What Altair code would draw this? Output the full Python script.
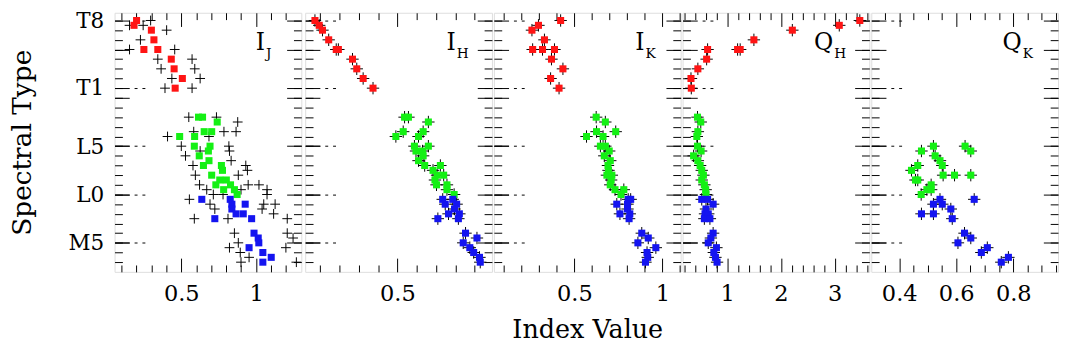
import altair as alt
import pandas as pd

FONT = "DejaVu Serif"

# ---------------- data ----------------
spt_label_values = [5, 10, 15, 21, 28]
spt_label_text = ["M5", "L0", "L5", "T1", "T8"]
group_names = ["T", "L", "M"]
group_colors = ["#ff1414", "#14f014", "#1414f0"]

panel_main = ["I", "I", "I", "Q", "Q"]
panel_sub = ["J", "H", "K", "H", "K"]

# Panel 1: I_J
ij_T_x = [0.201, 0.184, 0.30, 0.317, 0.25, 0.343, 0.433, 0.452, 0.507, 0.459]
ij_T_y = [28, 27.5, 27, 26, 25, 25, 24, 23, 22, 21]
ij_L_x = [0.615, 0.642, 0.74, 0.653, 0.703, 0.489, 0.589, 0.587, 0.692, 0.681, 0.62, 0.685,
          0.648, 0.768, 0.775, 0.703, 0.757, 0.801, 0.829, 0.731, 0.783, 0.855, 0.873]
ij_L_y = [18, 18, 17.5, 16.5, 16.5, 16, 16, 15, 15, 14.5, 14, 13.5,
          13, 13, 12.5, 12, 11.5, 11.5, 11, 11, 10.5, 10.5, 10]
ij_M_x = [0.637, 0.827, 0.838, 0.927, 0.838, 0.866, 0.914, 0.724, 0.97, 0.986, 1.014, 1.018,
          0.953, 1.045, 1.101, 1.045]
ij_M_y = [9.5, 9.5, 9, 9, 8.5, 8, 8, 7.5, 7.5, 6, 5.5, 5, 4.5, 4, 3.5, 3]
# Panel 1 comparison sample (black crosses)
ij_ref_x = [0.154, 0.245, 0.295, 0.402, 0.227, 0.154, 0.456, 0.343, 0.572, 0.365, 0.59, 0.437,
            0.626, 0.391, 0.572, 0.55, 0.735, 0.877, 0.583, 0.785, 0.866, 0.408, 0.685, 0.5,
            0.818, 0.626, 0.822, 0.528, 0.833, 0.578, 0.931, 0.942, 0.594, 0.881, 0.622, 0.947,
            1.019, 0.67, 0.899, 1.073, 0.554, 0.714, 0.779, 1.073, 0.692, 1.051, 1.127, 0.724,
            1.04, 1.117, 0.587, 0.812, 1.208, 0.855, 1.208, 1.247, 0.881, 0.822, 1.199, 0.953,
            0.899, 1.269, 0.894]
ij_ref_y = [27.5, 27.5, 28, 27, 26, 25, 25, 24, 24, 23, 23, 22,
            22, 21, 21, 18, 18, 17.5, 16.5, 16.5, 16.5, 16, 16, 15,
            15, 14.5, 14.5, 14, 13.5, 13, 13, 12.5, 12, 12, 11, 11,
            11, 10.5, 10.5, 10.5, 9.5, 10, 10, 10, 9, 9, 9, 8.5,
            8.5, 8, 7.5, 7.5, 7.5, 6, 6, 5.5, 5, 4.5, 4.5, 3.5,
            3, 3, 4]

# Panel 2: I_H
ih_T_x = [0.074, 0.096, 0.113, 0.145, 0.184, 0.195, 0.268, 0.29, 0.323, 0.374]
ih_T_y = [28, 27.5, 27, 26, 25, 25, 24, 23, 22, 21]
ih_L_x = [0.537, 0.557, 0.66, 0.53, 0.633, 0.492, 0.609, 0.588, 0.66, 0.596, 0.63, 0.633,
          0.609, 0.641, 0.684, 0.722, 0.705, 0.739, 0.694, 0.702, 0.756, 0.756, 0.793]
ih_L_y = [18, 18, 17.5, 16.5, 16.5, 16, 16, 15, 15, 14.5, 14.5, 14,
          13.5, 13, 12.5, 13, 12, 12, 11.5, 11, 11, 10.5, 10]
ih_M_x = [0.734, 0.747, 0.786, 0.806, 0.764, 0.795, 0.82, 0.815, 0.709, 0.852, 0.911, 0.84,
          0.874, 0.894, 0.924, 0.928]
ih_M_y = [9.5, 9, 9.5, 9, 8, 8.5, 8, 7.5, 7.5, 6, 5.5, 5, 4.5, 4, 3.5, 3]

# Panel 3: I_K
ik_T_x = [0.422, 0.296, 0.259, 0.33, 0.263, 0.319, 0.387, 0.37, 0.435, 0.365, 0.413]
ik_T_y = [28, 27.5, 27, 26, 25, 25, 25, 24, 23, 22, 21]
ik_L_x = [0.624, 0.676, 0.626, 0.735, 0.569, 0.663, 0.648, 0.676, 0.698, 0.67, 0.704, 0.691,
          0.694, 0.685, 0.713, 0.709, 0.704, 0.731, 0.781, 0.765]
ik_L_y = [18, 17.5, 16.5, 16.5, 16, 16, 15, 15, 14.5, 14, 13.5, 13,
          12.5, 12, 12, 11.5, 11, 10.5, 10.5, 10]
ik_M_x = [0.806, 0.82, 0.741, 0.802, 0.802, 0.759, 0.815, 0.811, 0.883, 0.92, 0.861, 0.963,
          0.913, 0.917, 0.904]
ik_M_y = [9.5, 9.5, 9, 9, 8.5, 8, 8, 7.5, 6, 5.5, 5, 4.5, 4, 3.5, 3]

# Panel 4: Q_H
qh_T_x = [3.467, 3.085, 2.212, 1.497, 1.194, 1.242, 0.636, 0.618, 0.455, 0.327, 0.333]
qh_T_y = [28, 27.5, 27, 26, 25, 25, 25, 24, 23, 22, 21]
qh_L_x = [0.448, 0.509, 0.455, 0.436, 0.448, 0.515, 0.376, 0.455, 0.497, 0.527, 0.558, 0.527,
          0.576, 0.6, 0.606]
qh_L_y = [18, 17.5, 16.5, 16, 15, 14.5, 14, 13.5, 13, 12.5, 12, 11.5, 11, 10.5, 10]
qh_M_x = [0.527, 0.636, 0.739, 0.606, 0.588, 0.648, 0.576, 0.679, 0.739, 0.697, 0.648, 0.8,
          0.752, 0.782, 0.812]
qh_M_y = [9.5, 9.5, 9, 8.5, 8, 8, 7.5, 7.5, 6, 5.5, 5, 4.5, 4, 3.5, 3]

# Panel 5: Q_K
qk_T_x = []
qk_T_y = []
qk_L_x = [0.478, 0.52, 0.631, 0.651, 0.526, 0.543, 0.551, 0.465, 0.443, 0.554, 0.594, 0.651,
          0.457, 0.465, 0.512, 0.497, 0.512, 0.477]
qk_L_y = [14.5, 15, 15, 14.5, 14, 13.5, 13, 13, 12.5, 12, 12, 12,
          11.5, 11.5, 11, 10.5, 10.5, 10]
qk_M_x = [0.663, 0.543, 0.52, 0.551, 0.581, 0.478, 0.52, 0.586, 0.629, 0.651, 0.606, 0.709,
          0.688, 0.783, 0.758]
qk_M_y = [9.5, 9.5, 9, 9, 8.5, 8, 8, 7.5, 6, 5.5, 5, 4.5, 4, 3.5, 3]

# axis tick values for each panel
x_major = [[0.5, 1.0], [0.5], [0.5, 1.0], [1, 2, 3], [0.4, 0.6, 0.8]]
x_minor = [
    [0.1, 0.2, 0.3, 0.4, 0.6, 0.7, 0.8, 0.9, 1.1, 1.2],
    [0.1, 0.2, 0.3, 0.4, 0.6, 0.7, 0.8, 0.9],
    [0.1, 0.2, 0.3, 0.4, 0.6, 0.7, 0.8, 0.9, 1.1],
    [0.2, 0.4, 0.6, 0.8, 1.2, 1.4, 1.6, 1.8, 2.2, 2.4, 2.6, 2.8, 3.2, 3.4, 3.6],
    [0.35, 0.45, 0.5, 0.55, 0.65, 0.7, 0.75, 0.85, 0.9, 0.95],
]
x_domains = [[0.054, 1.302], [0.0237, 0.9884], [0.0428, 1.1039], [0.171, 3.644], [0.302, 0.957]]
y_minor = list(range(3, 29))
y_major = [5, 10, 15, 20, 25]
y_right_major = [5, 10, 15, 20, 21, 25, 28]

# ---------------- layout constants ----------------
W = 191
H = 265
Y_DOM = [2, 28.8]
CROSS = "M-1,0L1,0M0,-1L0,1"


def make_df(tx, ty, lx, ly, mx, my):
    rows = []
    for g, xs, ys in (("T", tx, ty), ("L", lx, ly), ("M", mx, my)):
        for a, b in zip(xs, ys):
            rows.append({"v": a, "st": b, "g": g})
    return pd.DataFrame(rows)


panel_data = [
    make_df(ij_T_x, ij_T_y, ij_L_x, ij_L_y, ij_M_x, ij_M_y),
    make_df(ih_T_x, ih_T_y, ih_L_x, ih_L_y, ih_M_x, ih_M_y),
    make_df(ik_T_x, ik_T_y, ik_L_x, ik_L_y, ik_M_x, ik_M_y),
    make_df(qh_T_x, qh_T_y, qh_L_x, qh_L_y, qh_M_x, qh_M_y),
    make_df(qk_T_x, qk_T_y, qk_L_x, qk_L_y, qk_M_x, qk_M_y),
]
ref_df = pd.DataFrame({"v": ij_ref_x, "st": ij_ref_y})


def label_xaxis(values, title):
    kw = dict(orient="bottom", values=values, ticks=False, tickSize=0, domain=False, grid=False,
              labelFont=FONT, labelFontSize=23, labelColor="#000", labelPadding=11,
              labelFlush=False, labelOverlap=False, labelExpr="'' + datum.value")
    if title:
        kw.update(title=title, titleFont=FONT, titleFontSize=26, titleFontWeight="normal",
                  titleColor="#000", titlePadding=12)
    else:
        kw["title"] = None
    return alt.Axis(**kw)


def label_yaxis():
    expr = " : ".join(
        f"datum.value == {v} ? '{t}'" for v, t in zip(spt_label_values, spt_label_text)
    ) + " : ''"
    return alt.Axis(orient="left", values=spt_label_values, ticks=False, tickSize=0,
                    domain=False, grid=False, labelFont=FONT, labelFontSize=22,
                    labelColor="#000", labelPadding=11, labelExpr=expr, labelOverlap=False,
                    labelFlush=False, title="Spectral Type", titleFont=FONT, titleFontSize=27,
                    titleFontWeight="normal", titleColor="#000", titlePadding=32)


def tick_axis(orient, offset, values, size, dash=None):
    kw = dict(orient=orient, offset=offset, values=values, tickSize=size, labels=False,
              domain=False, grid=False, title=None, tickColor="#000", tickWidth=1)
    if dash:
        kw["tickDash"] = dash
    return alt.Axis(**kw)


def panel(k):
    df = panel_data[k]
    xs = alt.Scale(domain=x_domains[k], nice=False, zero=False)
    ys = alt.Scale(domain=Y_DOM, nice=False, zero=False)

    def enc(xaxis, yaxis):
        return dict(x=alt.X("v:Q", scale=xs, axis=xaxis),
                    y=alt.Y("st:Q", scale=ys, axis=yaxis))

    layers = []
    title = "Index Value" if k == 2 else None
    # black crosses
    if k == 0:
        cross_src, cross_size = ref_df, 100
    else:
        cross_src, cross_size = df, 160
    layers.append(
        alt.Chart(cross_src).mark_point(shape=CROSS, filled=False, color="black",
                                        strokeWidth=1, size=cross_size, opacity=1)
        .encode(**enc(label_xaxis(x_major[k], title), label_yaxis() if k == 0 else None))
    )
    # coloured squares
    layers.append(
        alt.Chart(df).mark_point(shape="square", filled=True, size=52, opacity=1)
        .encode(**enc(tick_axis("top", -H, x_major[k], 14),
                      tick_axis("right", -W, y_minor, 8)),
                color=alt.Color("g:N", scale=alt.Scale(domain=group_names, range=group_colors),
                                legend=None))
    )
    # invisible carriers for the inward tick marks on every side
    carriers = [
        (tick_axis("top", -H, x_minor[k], 7), tick_axis("right", -W, y_major, 15)),
        (tick_axis("bottom", -H, x_major[k], 14),
         tick_axis("right", -W, spt_label_values, 36, [15, 5, 3, 5, 3, 5])),
        (tick_axis("bottom", -H, x_minor[k], 7), tick_axis("left", -W, y_minor, 8)),
        (None, tick_axis("left", -W, y_right_major, 15)),
    ]
    for xa, ya in carriers:
        layers.append(alt.Chart(df).mark_point(opacity=0).encode(**enc(xa, ya)))

    ann = pd.DataFrame({"main": [panel_main[k]], "sub": [panel_sub[k]]})
    layers.append(
        alt.Chart(ann).mark_text(font=FONT, fontSize=24, align="right", baseline="alphabetic",
                                 color="black")
        .encode(x=alt.value(154), y=alt.value(38), text="main:N")
    )
    layers.append(
        alt.Chart(ann).mark_text(font=FONT, fontSize=14, align="left", baseline="alphabetic",
                                 color="black")
        .encode(x=alt.value(155), y=alt.value(46), text="sub:N")
    )
    return (alt.layer(*layers)
            .resolve_axis(x="independent", y="independent")
            .properties(width=W, height=H))


chart = (alt.hconcat(*[panel(k) for k in range(5)], spacing=0,
                     padding={"top": -3, "left": 0, "right": 0, "bottom": 0})
         .configure_view(stroke="black", strokeWidth=1.5)
         .configure(font=FONT))

chart.save("out.html", embed_options={"renderer": "svg", "actions": False})
